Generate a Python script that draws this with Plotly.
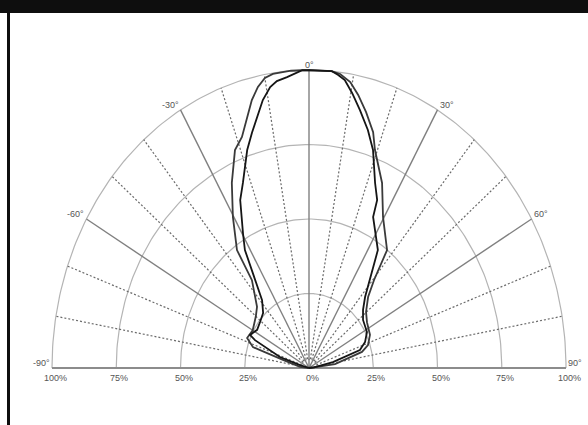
import numpy as np
import plotly.graph_objects as go

# ---------------- data (angle in degrees from vertical, intensity in %) ----------------
curve_a_theta = [-90, -84, -75, -72.2, -67.3, -60, -55, -50, -44.6, -40.6, -37, -35.3, -30.3,
                 -25.8, -21.5, -18.6, -16, -13.9, -11.9, -10, -8.1, -4, 0,
                 5, 7, 9.5, 11.8, 14.5, 17.5, 19.3, 24.6, 29.6, 37.5, 40.6, 44, 49.7, 55.7,
                 64.9, 71.5, 75.3, 82.5, 88, 90]
curve_a_r = [0, 3.5, 10.5, 22.9, 26.1, 25.3, 26, 27, 28.8, 32.3, 36.9, 48.5, 58.7,
             69, 78.6, 81.8, 87.6, 92.6, 96.4, 98.8, 99.7, 100, 100,
             100, 99.4, 97.3, 93.6, 88.7, 83, 77.6, 68.3, 58.3, 49.9, 38.9, 33.1, 29.1, 27.3,
             26.2, 24.2, 21.3, 10.2, 1.5, 0]

curve_b_theta = [-90, -74, -72, -66, -64.2, -57.6, -51, -44, -38.7, -35.4, -32.2, -29.6, -25.4,
                 -22.5, -18.2, -15.7, -13.5, -11.3, -9.1, -7.4, -5, -1.5,
                 5.1, 6.6, 8.2, 10.3, 12.9, 16, 18.8, 22.5, 25.2, 26.2, 34.1, 38.8, 42.5, 47.1,
                 52.5, 61.8, 68.2, 73.1, 77.9, 85, 90]
curve_b_r = [0, 3.6, 11.9, 23, 25.5, 23.9, 24.5, 25.7, 29.2, 36.2, 46.8, 52, 62.4,
             67.2, 77, 82, 86.6, 91.7, 95.5, 97.1, 98, 100,
             100, 99, 97.6, 93.8, 88.8, 83.1, 77.3, 67.2, 62.3, 56.5, 47.8, 37.9, 32.3, 28.7,
             26.5, 25.6, 23.5, 20.7, 9.5, 2, 0]

grid_circles = [25, 50, 75, 100]
inner_circle = [3]
solid_spokes = [-60, -30, 0, 30, 60]
dotted_spokes = [-80, -70, -50, -40, -20, -10, 10, 20, 40, 50, 70, 80]

angle_ticks = [-90, -60, -30, 0, 30, 60, 90]
angle_labels = ["-90°", "-60°", "-30°", "0°", "30°", "60°", "90°"]
pct_ticks = [-100, -75, -50, -25, 0, 25, 50, 75, 100]
pct_labels = ["100%", "75%", "50%", "25%", "0%", "25%", "50%", "75%", "100%"]


def to_xy(theta_deg, r):
    t = np.radians(np.asarray(theta_deg, dtype=float))
    r = np.asarray(r, dtype=float)
    return r * np.sin(t), r * np.cos(t)


fig = go.Figure()
arc_t = np.arange(-90, 90.5, 1.0)

for rc in grid_circles:
    x, y = to_xy(arc_t, np.full_like(arc_t, rc))
    fig.add_trace(go.Scatter(x=x, y=y, mode="lines", line=dict(color="#b4b4b4", width=1.2),
                             hoverinfo="skip"))
for rc in inner_circle:
    x, y = to_xy(arc_t, np.full_like(arc_t, rc))
    fig.add_trace(go.Scatter(x=x, y=y, mode="lines",
                             line=dict(color="#777777", width=1.2, dash="2px,2px"), hoverinfo="skip"))

for a in dotted_spokes:
    x, y = to_xy([a, a], [3, 100])
    fig.add_trace(go.Scatter(x=x, y=y, mode="lines",
                             line=dict(color="#6a6a6a", width=1.2, dash="2px,2px"), hoverinfo="skip"))
for a in solid_spokes:
    x, y = to_xy([a, a], [0, 100])
    fig.add_trace(go.Scatter(x=x, y=y, mode="lines", line=dict(color="#808080", width=1.4),
                             hoverinfo="skip"))

# baseline (-90 .. 90)
x, y = to_xy([-90, 90], [100, 100])
fig.add_trace(go.Scatter(x=x, y=y, mode="lines", line=dict(color="#8c8c8c", width=2),
                         hoverinfo="skip"))

xa, ya = to_xy(curve_a_theta, curve_a_r)
fig.add_trace(go.Scatter(x=xa, y=ya, mode="lines", line=dict(color="#3a3a3a", width=1.8),
                         name="A"))
xb, yb = to_xy(curve_b_theta, curve_b_r)
fig.add_trace(go.Scatter(x=xb, y=yb, mode="lines", line=dict(color="#151515", width=1.8),
                         name="B"))

font = dict(family="Liberation Sans, Arial, sans-serif", size=9, color="#555555")
ann = []
for a, lab in zip(angle_ticks, angle_labels):
    x, y = to_xy([a], [100])
    xanchor = "center" if a == 0 else ("right" if a < 0 else "left")
    ann.append(dict(x=float(x[0]), y=float(y[0]), text=lab, showarrow=False, font=font,
                    xanchor=xanchor, yanchor="bottom", xshift=0, yshift=-2))
for v, lab in zip(pct_ticks, pct_labels):
    ann.append(dict(x=v, y=0, text=lab, showarrow=False, font=font,
                    xanchor="center", yanchor="top", xshift=3, yshift=-3))

# pixel mapping: centre at (309, 368); 2.57 px per % horizontally, 2.98 px per % vertically
W, H = 588, 425
sx, sy = 2.57, 2.98
x0 = -309 / sx
x1 = x0 + W / sx
y1 = 368 / sy
y0 = y1 - H / sy

fig.update_layout(
    width=W, height=H,
    margin=dict(l=0, r=0, t=0, b=0),
    paper_bgcolor="white", plot_bgcolor="white",
    showlegend=False,
    xaxis=dict(range=[x0, x1], visible=False, fixedrange=True),
    yaxis=dict(range=[y0, y1], visible=False, fixedrange=True),
    annotations=ann,
    shapes=[
        dict(type="rect", xref="paper", yref="paper", x0=0, x1=1, y0=1 - 13 / H, y1=1,
             fillcolor="#0e0e0e", line=dict(width=0), layer="above"),
        dict(type="rect", xref="paper", yref="paper", x0=7 / W, x1=10 / W, y0=0, y1=1,
             fillcolor="#0e0e0e", line=dict(width=0), layer="above"),
    ],
)

fig.write_html("out.html", config={"displayModeBar": False},
               post_script="document.body.style.margin='0px';document.body.style.overflow='hidden';")
